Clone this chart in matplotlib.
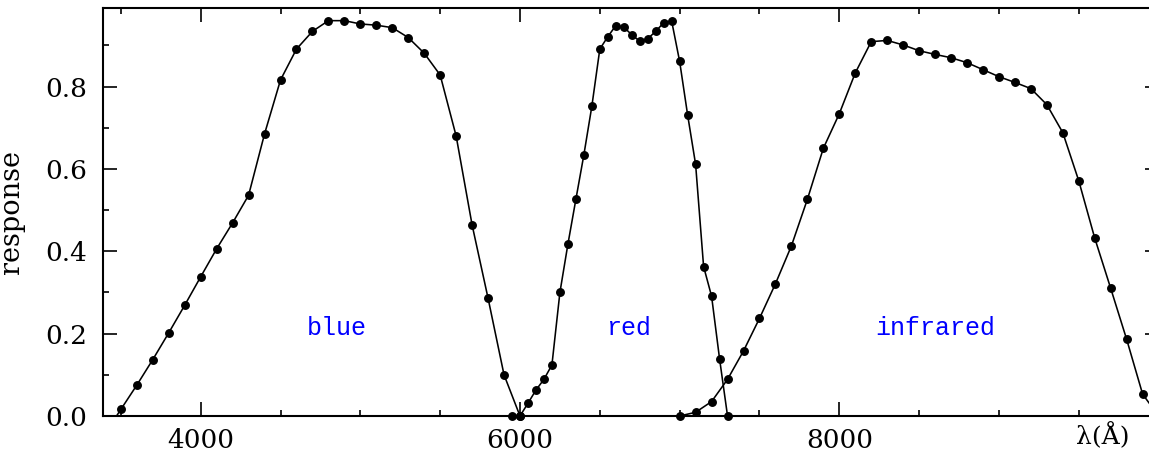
import numpy as np
import matplotlib
matplotlib.use("Agg")
import matplotlib.pyplot as plt
from matplotlib.ticker import MultipleLocator, FormatStrFormatter

# Filter response curves (wavelength in Angstrom, fractional response)
blue_wave = [3400, 3500, 3600, 3700, 3800, 3900, 4000, 4100, 4200, 4300,
             4400, 4500, 4600, 4700, 4800, 4900, 5000, 5100, 5200, 5300,
             5400, 5500, 5600, 5700, 5800, 5900, 6000]
blue_resp = [-0.043, 0.016, 0.075, 0.137, 0.202, 0.269, 0.338, 0.406, 0.469, 0.536,
             0.685, 0.816, 0.891, 0.934, 0.960, 0.960, 0.952, 0.949, 0.943, 0.919,
             0.881, 0.828, 0.680, 0.464, 0.286, 0.100, 0.000]

red_wave = [5950, 6000, 6050, 6100, 6150, 6200, 6250, 6300, 6350, 6400,
            6450, 6500, 6550, 6600, 6650, 6700, 6750, 6800, 6850, 6900,
            6950, 7000, 7050, 7100, 7150, 7200, 7250, 7300]
red_resp = [0.000, 0.000, 0.031, 0.063, 0.089, 0.124, 0.300, 0.417, 0.526, 0.634,
            0.752, 0.891, 0.921, 0.948, 0.944, 0.926, 0.910, 0.916, 0.934, 0.955,
            0.959, 0.861, 0.731, 0.611, 0.363, 0.291, 0.139, 0.000]

ir_wave = [7000, 7100, 7200, 7300, 7400, 7500, 7600, 7700, 7800, 7900,
           8000, 8100, 8200, 8300, 8400, 8500, 8600, 8700, 8800, 8900,
           9000, 9100, 9200, 9300, 9400, 9500, 9600, 9700, 9800, 9900, 10000]
ir_resp = [0.000, 0.009, 0.035, 0.089, 0.158, 0.237, 0.321, 0.413, 0.526, 0.650,
           0.734, 0.833, 0.909, 0.912, 0.901, 0.887, 0.878, 0.870, 0.858, 0.841,
           0.824, 0.810, 0.795, 0.756, 0.688, 0.571, 0.432, 0.310, 0.186, 0.053, 0.000]

band_names = ["blue", "red", "infrared"]
band_label_wave = [4850, 6680, 8600]
band_label_resp = 0.197

plt.rcParams["font.family"] = ["DejaVu Serif"]

W, H = 1149, 451
fig = plt.figure(figsize=(W / 100, H / 100), dpi=100)
# the frame runs to 10000 A, a little past the right edge of the canvas
left_px, right_px, top_px, bottom_px = 103.3, 1158.6, 8.3, 416.0
ax = fig.add_axes([left_px / W, (H - bottom_px) / H,
                   (right_px - left_px) / W, (bottom_px - top_px) / H])

for wave, resp in [(blue_wave, blue_resp), (red_wave, red_resp), (ir_wave, ir_resp)]:
    wave = np.asarray(wave, dtype=float)
    resp = np.asarray(resp, dtype=float)
    ax.plot(wave, resp, color="black", lw=1.15, clip_on=True, zorder=3)
    shown = resp >= 0
    ax.plot(wave[shown], resp[shown], "o", color="black", ms=5.4,
            clip_on=False, zorder=4)

for name, xw in zip(band_names, band_label_wave):
    ax.text(xw, band_label_resp, name, color="#0000ff", fontsize=18,
            family=["Liberation Mono", "DejaVu Sans Mono"],
            ha="center", va="baseline")

ax.set_xlim(3390, 10000)
ax.set_ylim(0, 0.99)

ax.set_xticks([4000, 6000, 8000])
ax.xaxis.set_minor_locator(MultipleLocator(500))
ax.yaxis.set_major_locator(MultipleLocator(0.2))
ax.yaxis.set_minor_locator(MultipleLocator(0.1))
ax.yaxis.set_major_formatter(FormatStrFormatter("%.1f"))

ax.tick_params(which="both", direction="in", top=True, right=True,
               width=1.2, labelsize=19)
ax.tick_params(which="major", length=9.8)
ax.tick_params(which="minor", length=4.6)
ax.tick_params(axis="y", which="major", pad=11.5)
ax.tick_params(axis="x", which="major", pad=8.5)

for sp in ax.spines.values():
    sp.set_linewidth(1.5)

ax.set_ylabel("response", fontsize=19.5)
ax.yaxis.set_label_coords(-0.0742, 0.5)

ax.annotate("λ(Å)", xy=(9652, 0), xycoords=("data", "axes fraction"),
            xytext=(0, -20), textcoords="offset points",
            ha="center", va="baseline", fontsize=18)

fig.savefig("out.png", dpi=100)
